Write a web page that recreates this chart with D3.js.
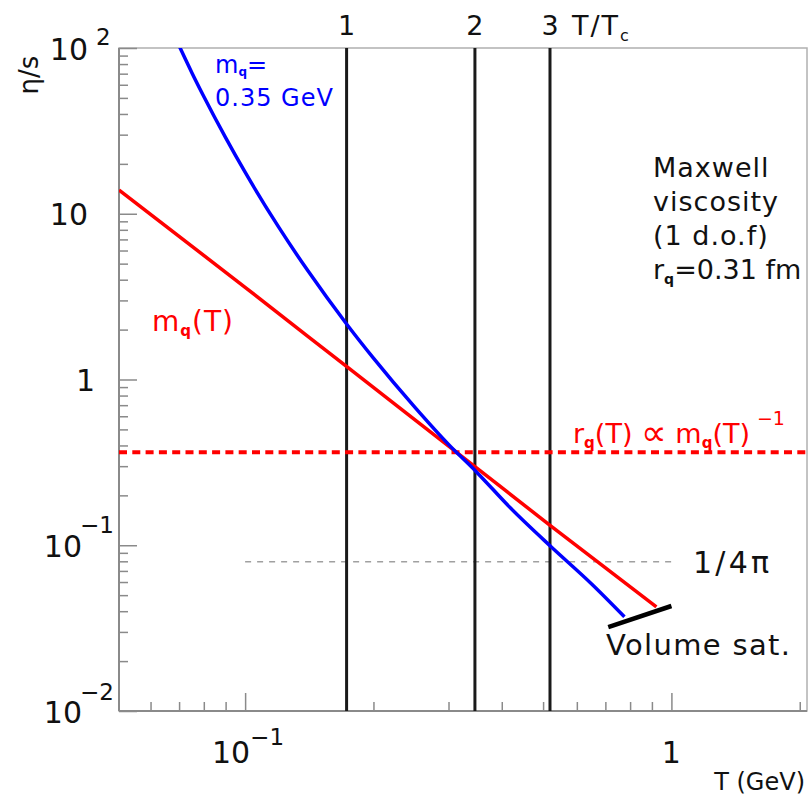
<!DOCTYPE html>
<html>
<head>
<meta charset="utf-8">
<script src="https://cdn.jsdelivr.net/npm/d3@7"></script>
<style>
  html, body { margin: 0; padding: 0; background: #fff; }
  svg { display: block; }
  text { font-family: "DejaVu Sans", sans-serif; }
</style>
</head>
<body>
<svg id="chart" width="810" height="795"></svg>
<script>
// ---------------- data ----------------
const Tc = 0.173;                       // GeV
const tcMultiples = [1, 2, 3];
// blue curve: fixed quark mass m_q = 0.35 GeV  (T in GeV, eta/s)
const blueT   = [0.068, 0.0704, 0.075, 0.080, 0.090, 0.100, 0.120, 0.140, 0.1735, 0.200, 0.250, 0.300, 0.3484, 0.420, 0.5228, 0.650, 0.776];
const blueEta = [121,   100,    71,    51,    28.8,  17.8,  8.27,  4.57,  2.14,   1.345, 0.681, 0.406, 0.278,  0.167, 0.0976, 0.0584, 0.037];
// red curve: m_q(T)
const redT    = [0.0506, 0.100, 0.1735, 0.3484, 0.5228, 0.922];
const redEta  = [13.9,   3.6,   1.19,   0.294,  0.130,  0.0425];
// red dotted: r_q(T) ∝ m_q(T)^-1
const rqEta = 0.364;
// KSS bound 1/4π
const kssEta = 1 / (4 * Math.PI);
const kssT = [0.1, 1.0];
// volume saturation segment
const volT   = [0.711, 1.0];
const volEta = [0.0321, 0.0430];
// ticks
const yMajor = [0.01, 0.1, 1, 10, 100];
const yMinor = [];
[0.01, 0.1, 1, 10].forEach(d => { for (let k = 2; k <= 9; k++) yMinor.push(+(d * k).toPrecision(3)); });
const xMajor = [0.1, 1];
const xMinor = [0.06, 0.07, 0.08, 0.09, 0.2, 0.3, 0.4, 0.5, 0.6, 0.7, 0.8, 0.9, 2];

// ---------------- layout ----------------
const L = 119, R = 807, T0 = 48, B = 711;
const svg = d3.select("#chart");
const x = d3.scaleLog().domain([0.0506, 2.08]).range([L, R]);
const y = d3.scaleLog().domain([0.01, 100]).range([B, T0]);

const axisColor = "#8a8a8a";

// frame
svg.append("rect").attr("x", L).attr("y", T0).attr("width", R - L).attr("height", B - T0)
  .attr("fill", "none").attr("stroke", "#b0b0b0").attr("stroke-width", 1.5);

function styleAxis(g) {
  g.select(".domain").remove();
  g.selectAll(".tick line").attr("stroke", axisColor).attr("stroke-width", 1.5);
  g.selectAll(".tick text").remove();
}
svg.append("g").attr("transform", `translate(${L},0)`)
  .call(d3.axisLeft(y).tickValues(yMajor).tickSize(-18).tickFormat("")).call(styleAxis);
svg.append("g").attr("transform", `translate(${L},0)`)
  .call(d3.axisLeft(y).tickValues(yMinor).tickSize(-9).tickFormat("")).call(styleAxis);
svg.append("g").attr("transform", `translate(0,${B})`)
  .call(d3.axisBottom(x).tickValues(xMajor).tickSize(-18).tickFormat("")).call(styleAxis);
svg.append("g").attr("transform", `translate(0,${B})`)
  .call(d3.axisBottom(x).tickValues(xMinor).tickSize(-9).tickFormat("")).call(styleAxis);
svg.append("line").attr("x1", L).attr("x2", L).attr("y1", T0).attr("y2", B)
  .attr("stroke", axisColor).attr("stroke-width", 2);
svg.append("line").attr("x1", L).attr("x2", R).attr("y1", B).attr("y2", B)
  .attr("stroke", axisColor).attr("stroke-width", 2);

svg.append("clipPath").attr("id", "clip").append("rect")
  .attr("x", L).attr("y", T0).attr("width", R - L).attr("height", B - T0);
const plot = svg.append("g").attr("clip-path", "url(#clip)");

// KSS dashed
plot.append("line")
  .attr("x1", x(kssT[0])).attr("x2", x(kssT[1])).attr("y1", y(kssEta)).attr("y2", y(kssEta))
  .attr("stroke", "#a0a0a0").attr("stroke-width", 1.5).attr("stroke-dasharray", "6,6");

// vertical T/Tc lines
plot.selectAll("line.tc").data(tcMultiples).enter().append("line")
  .attr("class", "tc")
  .attr("x1", d => x(d * Tc)).attr("x2", d => x(d * Tc))
  .attr("y1", T0).attr("y2", B)
  .attr("stroke", "#1a1a1a").attr("stroke-width", 3);

// red dotted
plot.append("line")
  .attr("x1", L).attr("x2", R).attr("y1", y(rqEta)).attr("y2", y(rqEta))
  .attr("stroke", "#ff0000").attr("stroke-width", 4).attr("stroke-dasharray", "8,5.3");

const line = d3.line().x(d => x(d[0])).y(d => y(d[1])).curve(d3.curveMonotoneX);

plot.append("path").datum(redT.map((t, i) => [t, redEta[i]]))
  .attr("d", line).attr("fill", "none").attr("stroke", "#ff0000").attr("stroke-width", 3.5);

plot.append("path").datum(blueT.map((t, i) => [t, blueEta[i]]))
  .attr("d", line).attr("fill", "none").attr("stroke", "#0000ff").attr("stroke-width", 3.5);

// volume saturation
svg.append("line")
  .attr("x1", x(volT[0])).attr("y1", y(volEta[0])).attr("x2", x(volT[1])).attr("y2", y(volEta[1]))
  .attr("stroke", "#000").attr("stroke-width", 4.5);

// ---------------- tick labels ----------------
const tickFont = '"Liberation Sans", sans-serif';
function powLabel(xEnd, base, exp, supX, supBase) {
  svg.append("text").attr("x", xEnd).attr("y", base).attr("text-anchor", "end")
    .attr("font-family", tickFont).attr("font-size", 30).attr("fill", "#111").text("10");
  if (exp) svg.append("text").attr("x", supX).attr("y", supBase)
    .attr("font-family", tickFont).attr("font-size", 23).attr("fill", "#111").text(exp);
}
powLabel(88, y(100) + 12, "2", 96, y(100) - 3);
powLabel(88, y(10) + 11, "", 0, 0);
svg.append("text").attr("x", 95).attr("y", y(1) + 11).attr("text-anchor", "end")
  .attr("font-family", tickFont).attr("font-size", 30).attr("fill", "#111").text("1");
powLabel(82, y(0.1) + 12, "\u22121", 80, y(0.1) - 12);
powLabel(82, y(0.01) + 12, "\u22122", 80, y(0.01) - 11);
svg.append("text").attr("x", x(0.1) + 5).attr("y", 763).attr("text-anchor", "end")
  .attr("font-family", tickFont).attr("font-size", 30).attr("fill", "#111").text("10");
svg.append("text").attr("x", x(0.1) + 5).attr("y", 745)
  .attr("font-family", tickFont).attr("font-size", 23).attr("fill", "#111").text("\u22121");
svg.append("text").attr("x", x(1)).attr("y", 763).attr("text-anchor", "middle")
  .attr("font-family", tickFont).attr("font-size", 30).attr("fill", "#111").text("1");

// axis titles
svg.append("text").attr("x", 805).attr("y", 790).attr("text-anchor", "end")
  .attr("font-size", 24).attr("fill", "#111").text("T (GeV)");
svg.append("text").attr("transform", "translate(38,75) rotate(-90)").attr("text-anchor", "middle")
  .attr("font-size", 26).attr("fill", "#111").text("\u03b7/s");

// top T/Tc labels
svg.selectAll("text.tcl").data(tcMultiples).enter().append("text")
  .attr("class", "tcl").attr("x", d => x(d * Tc)).attr("y", 35).attr("text-anchor", "middle")
  .attr("font-size", 27).attr("fill", "#111").text(d => d);
const ttc = svg.append("text").attr("x", 572).attr("y", 35).attr("font-size", 27).attr("fill", "#111")
  .attr("letter-spacing", 2);
ttc.append("tspan").text("T/T");
ttc.append("tspan").attr("font-size", 16).attr("dy", 6).text("c");

// blue label
const bl1 = svg.append("text").attr("x", 215).attr("y", 73).attr("font-size", 24).attr("fill", "#0000ff");
bl1.append("tspan").text("m");
bl1.append("tspan").attr("font-size", 12).attr("dy", 3).attr("font-weight", "bold").text("q");
bl1.append("tspan").attr("dy", -3).text("=");
svg.append("text").attr("x", 215).attr("y", 106).attr("font-size", 24).attr("fill", "#0000ff")
  .attr("letter-spacing", 1).text("0.35 GeV");

// red label
const rl = svg.append("text").attr("x", 152).attr("y", 331).attr("font-size", 28).attr("fill", "#ff0000")
  .attr("letter-spacing", 1);
rl.append("tspan").text("m");
rl.append("tspan").attr("font-size", 15).attr("dy", 5).attr("font-weight", "bold").text("q");
rl.append("tspan").attr("dy", -5).text("(T)");

// rq label
const rq = svg.append("text").attr("x", 573).attr("y", 443).attr("font-size", 27).attr("fill", "#ff0000");
rq.append("tspan").text("r");
rq.append("tspan").attr("font-size", 15).attr("dy", 5).attr("font-weight", "bold").text("q");
rq.append("tspan").attr("dy", -5).text("(T) ");
rq.append("tspan").attr("font-size", 36).attr("dy", 2).text("\u221d");
rq.append("tspan").attr("dy", -2).text(" m");
rq.append("tspan").attr("font-size", 15).attr("dy", 5).attr("font-weight", "bold").text("q");
rq.append("tspan").attr("dy", -5).text("(T)");
rq.append("tspan").attr("font-size", 19).attr("dy", -18).attr("dx", 7).text("\u22121");

// Maxwell block
const mx = ["Maxwell", "viscosity", "(1 d.o.f)"];
svg.selectAll("text.mx").data(mx).enter().append("text").attr("class", "mx")
  .attr("x", 653).attr("y", (d, i) => 177 + i * 34).attr("font-size", 27).attr("fill", "#111")
  .attr("letter-spacing", 1).text(d => d);
const rr = svg.append("text").attr("x", 653).attr("y", 279).attr("font-size", 27).attr("fill", "#111");
rr.append("tspan").text("r");
rr.append("tspan").attr("font-size", 14).attr("dy", 5).attr("font-weight", "bold").text("q");
rr.append("tspan").attr("dy", -5).text("=0.31 fm");

// 1/4π
svg.append("text").attr("x", 693).attr("y", 573).attr("font-size", 30).attr("fill", "#111")
  .attr("textLength", 76).attr("lengthAdjust", "spacing").text("1/4\u03c0");
// Volume sat.
svg.append("text").attr("x", 606).attr("y", 655).attr("font-size", 29).attr("fill", "#111")
  .attr("textLength", 184).attr("lengthAdjust", "spacing").text("Volume sat.");
</script>
</body>
</html>
